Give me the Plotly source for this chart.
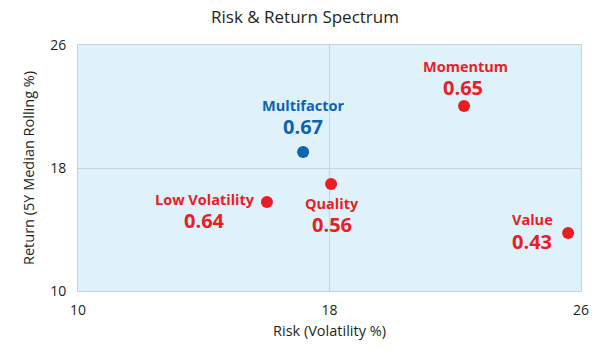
import plotly.graph_objects as go

names = ["Momentum", "Multifactor", "Quality", "Low Volatility", "Value"]
risk = [22.28, 17.16, 18.05, 16.01, 25.59]
ret = [22.03, 19.04, 16.96, 15.79, 13.77]
scores = ["0.65", "0.67", "0.56", "0.64", "0.43"]
colors = ["#ec1c24", "#0b64b2", "#ec1c24", "#ec1c24", "#ec1c24"]
tick_vals = [10, 18, 26]

# label offsets (px) for name and score relative to point
name_off = [(1, 40), (0, 47), (1, -20), (-62, 2), (-36, 14)]
score_off = [(-1, 19), (0, 26), (1, -41), (-62, -19), (-36, -8)]

fig = go.Figure()
fig.add_trace(go.Scatter(
    x=risk, y=ret, mode="markers",
    marker=dict(size=12, color=colors),
    hoverinfo="skip", showlegend=False,
))

font_family = "Open Sans"
for n, rx, ry, s, c, no, so in zip(names, risk, ret, scores, colors, name_off, score_off):
    fig.add_annotation(x=rx, y=ry, xref="x", yref="y", text=f"<b>{n}</b>",
                       showarrow=False, xshift=no[0], yshift=no[1], borderpad=0,
                       font=dict(family=font_family, size=14.5, color=c))
    fig.add_annotation(x=rx, y=ry, xref="x", yref="y", text=f"<b>{s}</b>",
                       showarrow=False, xshift=so[0], yshift=so[1], borderpad=0,
                       font=dict(family=font_family, size=20, color=c))

fig.update_layout(
    width=600, height=349,
    margin=dict(l=78, r=19, t=45, b=58),
    paper_bgcolor="white",
    plot_bgcolor="#dff2fc",
    font=dict(family=font_family, size=14, color="#231f20"),
    title=dict(text="Risk & Return Spectrum", x=305/600, xanchor="center",
               y=1-17/349, yanchor="middle", font=dict(size=17, color="#231f20")),
)
fig.update_xaxes(range=[10, 26], tickvals=tick_vals, showgrid=True,
                 gridcolor="#c9d2d8", gridwidth=1, zeroline=False,
                 showline=True, linecolor="#c9d2d8", mirror=True,
                 ticks="", ticklabelstandoff=6,
                 title=dict(text="Risk (Volatility %)", standoff=8,
                            font=dict(size=14.5)))
fig.update_yaxes(range=[10, 26], tickvals=tick_vals, showgrid=True,
                 gridcolor="#c9d2d8", gridwidth=1, zeroline=False,
                 showline=True, linecolor="#c9d2d8", mirror=True,
                 ticks="", ticklabelstandoff=8,
                 title=dict(text="Return (5Y Median Rolling %)", standoff=12,
                            font=dict(size=14.5)))

fig.write_html("out.html")
